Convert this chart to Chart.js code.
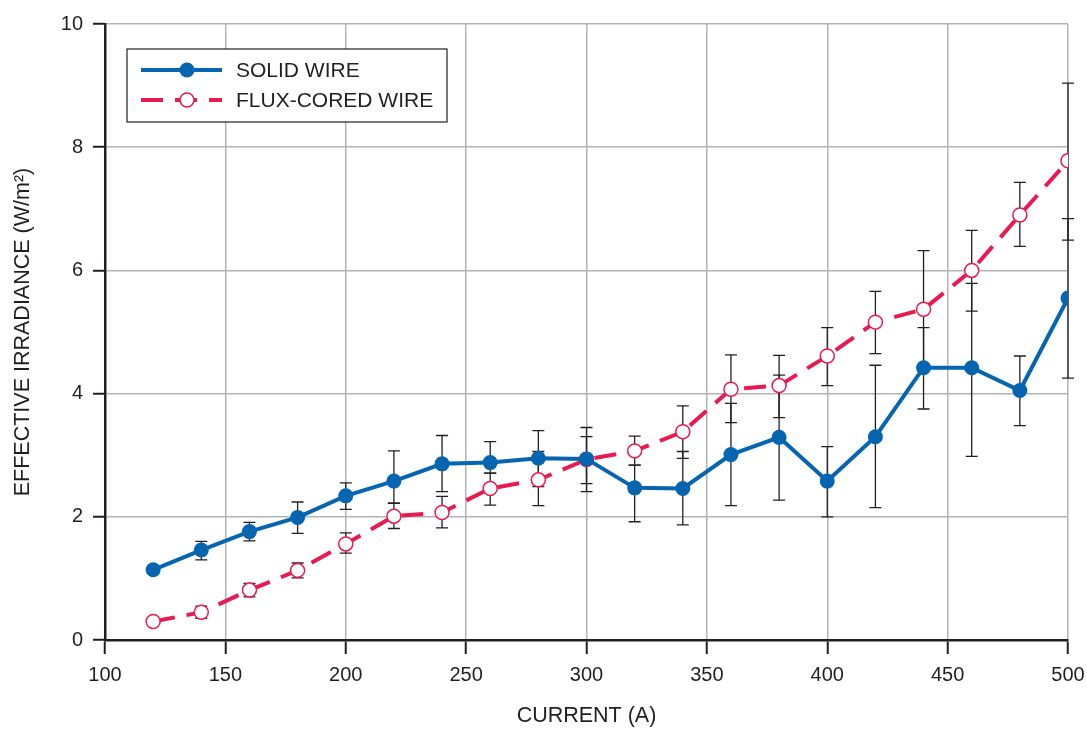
<!DOCTYPE html>
<html>
<head>
<meta charset="utf-8">
<script src="https://cdn.jsdelivr.net/npm/chart.js@4/dist/chart.umd.min.js"></script>
<style>
    html, body { margin: 0; padding: 0; background: #fff; }
</style>
</head>
<body>
<canvas id="irradianceChart" width="1087" height="729"></canvas>
<script>
// Данные
const current = [120, 140, 160, 180, 200, 220, 240, 260, 280, 300, 320, 340, 360, 380, 400, 420, 440, 460, 480, 500];

const solidWire = [1.14, 1.46, 1.76, 1.99, 2.34, 2.58, 2.86, 2.88, 2.95, 2.94, 2.47, 2.46, 3.01, 3.29, 2.58, 3.30, 4.42, 4.42, 4.05, 5.55];
const solidLow  = [null, 1.30, 1.61, 1.73, 2.12, 2.22, 2.41, 2.71, 2.49, 2.41, 1.92, 1.87, 2.18, 2.27, 2.00, 2.15, 3.75, 2.98, 3.48, 4.25];
const solidHigh = [null, 1.60, 1.91, 2.24, 2.55, 3.07, 3.32, 3.22, 3.40, 3.45, 2.84, 3.06, 3.84, 4.30, 3.14, 4.46, 5.07, 5.79, 4.61, 6.84];

const fluxWire = [0.30, 0.45, 0.81, 1.13, 1.56, 2.01, 2.07, 2.46, 2.60, 2.93, 3.07, 3.38, 4.07, 4.13, 4.61, 5.16, 5.37, 6.00, 6.90, 7.78];
const fluxLow  = [null, 0.35, 0.70, 1.01, 1.41, 1.81, 1.82, 2.19, 2.18, 2.54, 2.84, 2.95, 3.53, 3.61, 4.13, 4.65, 4.42, 5.34, 6.39, 6.49];
const fluxHigh = [null, 0.55, 0.92, 1.25, 1.74, 2.22, 2.33, 2.71, 3.06, 3.30, 3.31, 3.80, 4.63, 4.62, 5.07, 5.66, 6.32, 6.65, 7.43, 9.04];

const seriesNames = ['SOLID WIRE', 'FLUX-CORED WIRE'];

const BLUE = '#0565b0';
const RED = '#e91a50';
const INK = '#231f20';
const GRID = '#b4b4b4';
const FONT = '"Liberation Sans", Arial, Helvetica, sans-serif';

// Усы погрешностей
const errorBarPlugin = {
    id: 'errorBars',
    beforeDatasetsDraw(chart) {
        const ctx = chart.ctx;
        const xs = chart.scales.x;
        const ys = chart.scales.y;
        ctx.save();
        ctx.strokeStyle = INK;
        ctx.lineWidth = 1.3;
        [[solidLow, solidHigh], [fluxLow, fluxHigh]].forEach(([lo, hi]) => {
            current.forEach((c, i) => {
                if (lo[i] == null) return;
                const x = xs.getPixelForValue(c);
                const y1 = ys.getPixelForValue(lo[i]);
                const y2 = ys.getPixelForValue(hi[i]);
                ctx.beginPath();
                ctx.moveTo(x, y1); ctx.lineTo(x, y2);
                ctx.moveTo(x - 6, y1); ctx.lineTo(x + 6, y1);
                ctx.moveTo(x - 6, y2); ctx.lineTo(x + 6, y2);
                ctx.stroke();
            });
        });
        ctx.restore();
    }
};

// Легенда в рамке внутри области графика
const legendBoxPlugin = {
    id: 'legendBox',
    afterDraw(chart) {
        const ctx = chart.ctx;
        const a = chart.chartArea;
        const left = a.left + 22, top = a.top + 25, w = 320, h = 73;
        ctx.save();
        ctx.fillStyle = '#fff';
        ctx.fillRect(left, top, w, h);
        ctx.strokeStyle = INK;
        ctx.lineWidth = 1.2;
        ctx.strokeRect(left, top, w, h);

        chart.data.datasets.forEach((ds, i) => {
            const y = top + 21 + i * 30;
            const x0 = left + 14, x1 = left + 95, xm = left + 60;
            ctx.strokeStyle = ds.borderColor;
            ctx.lineWidth = ds.borderWidth;
            ctx.setLineDash(ds.borderDash || []);
            ctx.beginPath();
            ctx.moveTo(x0, y);
            ctx.lineTo(x1, y);
            ctx.stroke();
            ctx.setLineDash([]);

            ctx.beginPath();
            ctx.arc(xm, y, ds.pointRadius, 0, Math.PI * 2);
            ctx.fillStyle = ds.pointBackgroundColor;
            ctx.fill();
            if (ds.pointBorderWidth) {
                ctx.lineWidth = ds.pointBorderWidth;
                ctx.strokeStyle = ds.pointBorderColor;
                ctx.stroke();
            }

            ctx.fillStyle = INK;
            ctx.font = '21px ' + FONT;
            ctx.textBaseline = 'middle';
            ctx.fillText(ds.label, left + 109, y + 1);
        });
        ctx.restore();
    }
};

function toPoints(values) {
    return current.map((c, i) => ({ x: c, y: values[i] }));
}

new Chart(document.getElementById('irradianceChart'), {
    type: 'line',
    data: {
        datasets: [{
            label: seriesNames[0],
            data: toPoints(solidWire),
            borderColor: BLUE,
            borderWidth: 4,
            pointRadius: 7.5,
            pointBackgroundColor: BLUE,
            pointBorderColor: BLUE,
            pointBorderWidth: 0,
            tension: 0
        }, {
            label: seriesNames[1],
            data: toPoints(fluxWire),
            borderColor: RED,
            borderWidth: 4,
            borderDash: [22, 12],
            pointRadius: 7,
            pointBackgroundColor: '#ffffff',
            pointBorderColor: RED,
            pointBorderWidth: 1.5,
            tension: 0
        }]
    },
    options: {
        responsive: false,
        animation: false,
        layout: { padding: { top: 24, right: 19, left: 0, bottom: 0 } },
        plugins: {
            legend: { display: false },
            tooltip: { enabled: false }
        },
        scales: {
            x: {
                type: 'linear',
                min: 100,
                max: 500,
                afterFit: scale => {
                    scale.height = 89;
                    scale.paddingLeft = 0;
                    scale.paddingRight = 0;
                },
                ticks: {
                    stepSize: 50,
                    color: INK,
                    padding: 9,
                    font: { family: FONT, size: 20 }
                },
                grid: {
                    color: GRID,
                    lineWidth: 1.5,
                    tickColor: INK,
                    tickLength: 14,
                    tickWidth: 2
                },
                border: { color: INK, width: 2.5 },
                title: {
                    display: true,
                    text: 'CURRENT (A)',
                    color: INK,
                    padding: { top: 0, bottom: 0 },
                    font: { family: FONT, size: 21.5 }
                }
            },
            y: {
                min: 0,
                max: 10,
                afterFit: scale => {
                    scale.width = 105;
                    scale.paddingTop = 0;
                    scale.paddingBottom = 0;
                },
                ticks: {
                    stepSize: 2,
                    color: INK,
                    padding: 10,
                    font: { family: FONT, size: 20 }
                },
                grid: {
                    color: GRID,
                    lineWidth: 1.5,
                    tickColor: INK,
                    tickLength: 12,
                    tickWidth: 2
                },
                border: { color: INK, width: 2.5 },
                title: {
                    display: true,
                    text: 'EFFECTIVE IRRADIANCE (W/m²)',
                    color: INK,
                    padding: { top: 10, bottom: 0 },
                    font: { family: FONT, size: 21.5 }
                }
            }
        }
    },
    plugins: [errorBarPlugin, legendBoxPlugin]
});
</script>
</body>
</html>
